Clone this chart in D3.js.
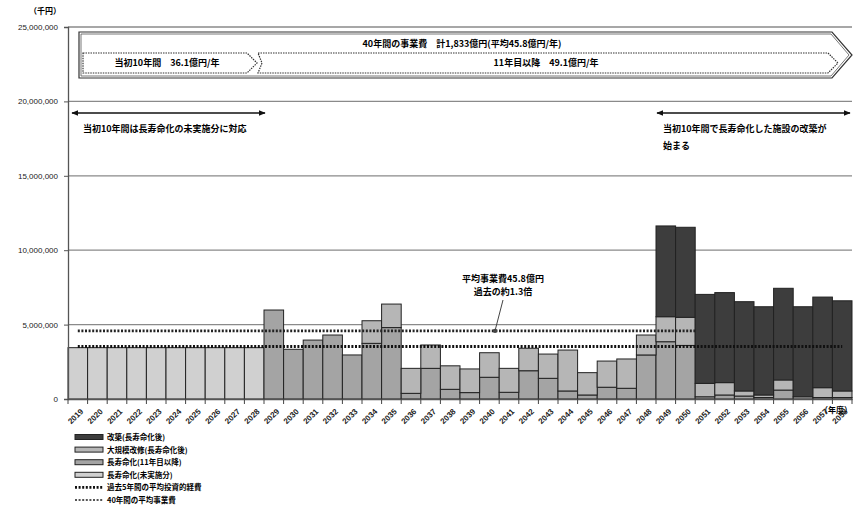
<!DOCTYPE html>
<html>
<head>
<meta charset="utf-8">
<script src="https://cdn.jsdelivr.net/npm/d3@7"></script>
<style>
  body { margin: 0; background: #fff; }
  text { font-family: "Noto Sans CJK JP", "Noto Sans", sans-serif; }
</style>
</head>
<body>
<svg id="chart" width="854" height="515"></svg>
<script>
// values in 千円
const years = d3.range(2019, 2059).map(String);

const mishi = [3450000, 3450000, 3450000, 3450000, 3450000, 3450000, 3450000, 3450000, 3450000, 3450000,
  0, 0, 0, 0, 0, 0, 0, 0, 0, 0, 0, 0, 0, 0, 0, 0, 0, 0, 0, 0, 0, 0, 0, 0, 0, 0, 0, 0, 0, 0];

const choju11 = [0, 0, 0, 0, 0, 0, 0, 0, 0, 0,
  5980000, 3340000, 3960000, 4300000, 2960000, 3740000, 4800000, 380000, 2060000, 650000,
  430000, 1460000, 450000, 1900000, 1390000, 540000, 270000, 790000, 720000, 2960000,
  3850000, 3600000, 150000, 270000, 200000, 100000, 600000, 0, 100000, 100000];

const daikibo = [0, 0, 0, 0, 0, 0, 0, 0, 0, 0,
  0, 0, 0, 0, 0, 1520000, 1580000, 1680000, 1570000, 1580000,
  1590000, 1650000, 1610000, 1510000, 1630000, 2750000, 1500000, 1760000, 1970000, 1340000,
  1680000, 1890000, 900000, 830000, 340000, 170000, 680000, 150000, 660000, 440000];

const kaichiku = [0, 0, 0, 0, 0, 0, 0, 0, 0, 0,
  0, 0, 0, 0, 0, 0, 0, 0, 0, 0,
  0, 0, 0, 0, 0, 0, 0, 0, 0, 0,
  6100000, 6050000, 5980000, 6050000, 6000000, 5930000, 6160000, 6050000, 6090000, 6060000];

const avg40 = 4580000;   // 40年間の平均事業費
const past5 = 3520000;   // 過去5年間の平均投資的経費

const yTicks = [0, 5000000, 10000000, 15000000, 20000000, 25000000];

const keys = ['mishi', 'choju11', 'daikibo', 'kaichiku'];
const colors = { mishi: '#d0d0d0', choju11: '#a4a4a4', daikibo: '#b6b6b6', kaichiku: '#3d3d3d' };
const legendItems = [
  { key: 'kaichiku', label: '改築(長寿命化後)' },
  { key: 'daikibo', label: '大規模改修(長寿命化後)' },
  { key: 'choju11', label: '長寿命化(11年目以降)' },
  { key: 'mishi', label: '長寿命化(未実施分)' },
];

const rows = years.map((y, i) => ({
  year: y, mishi: mishi[i], choju11: choju11[i], daikibo: daikibo[i], kaichiku: kaichiku[i]
}));

const plotL = 68, plotR = 852, plotT = 27, plotB = 399;
const svg = d3.select('#chart');

const x = d3.scaleBand().domain(years).range([plotL, plotR]).padding(0);
const y = d3.scaleLinear().domain([0, 25000000]).range([plotB, plotT]);
const bw = x.bandwidth();

// grid
svg.append('g')
  .selectAll('line')
  .data(yTicks.slice(1))
  .enter()
  .append('line')
  .attr('x1', plotL).attr('x2', plotR)
  .attr('y1', (d) => y(d)).attr('y2', (d) => y(d))
  .attr('stroke', '#8a8a8a')
  .attr('stroke-width', 1.3);

// bars
const stacked = d3.stack().keys(keys)(rows);
svg.append('g')
  .selectAll('g')
  .data(stacked)
  .enter()
  .append('g')
  .attr('fill', (d) => colors[d.key])
  .selectAll('rect')
  .data((d) => d.filter((p) => p[1] - p[0] > 0))
  .enter()
  .append('rect')
  .attr('x', (d) => x(d.data.year))
  .attr('width', bw)
  .attr('y', (d) => y(d[1]))
  .attr('height', (d) => y(d[0]) - y(d[1]))
  .attr('stroke', '#222')
  .attr('stroke-width', 1);

// average lines
svg.append('line')
  .attr('x1', x('2019') + bw / 2).attr('x2', x('2050') + bw)
  .attr('y1', y(avg40)).attr('y2', y(avg40))
  .attr('stroke', '#222').attr('stroke-width', 2.6)
  .attr('stroke-dasharray', '2,1.6');

svg.append('line')
  .attr('x1', x('2019') + bw / 2).attr('x2', x('2058') + bw / 2)
  .attr('y1', y(past5)).attr('y2', y(past5))
  .attr('stroke', '#111').attr('stroke-width', 3)
  .attr('stroke-dasharray', '2,1.6');

// y axis
const yAxis = d3.axisLeft(y).tickValues(yTicks).tickFormat(d3.format(',')).tickSize(4).tickPadding(6);
const gy = svg.append('g').attr('transform', 'translate(' + plotL + ',0)').call(yAxis);
gy.select('.domain').attr('stroke', '#555').attr('stroke-width', 1.3);
gy.selectAll('.tick line').attr('stroke', '#555');
gy.selectAll('text').attr('font-size', 8).attr('fill', '#222').style('font-family', '"Liberation Sans Narrow", "Liberation Sans", sans-serif');

// x axis
const xAxis = d3.axisBottom(x).tickSize(0).tickPadding(0);
const gx = svg.append('g').attr('transform', 'translate(0,' + plotB + ')').call(xAxis);
gx.select('.domain').attr('stroke', '#555').attr('stroke-width', 1.3);
gx.selectAll('text')
  .attr('font-size', 8)
  .attr('font-weight', 'bold')
  .attr('fill', '#222')
  .attr('text-anchor', 'end')
  .attr('dy', 0)
  .attr('y', 0)
  .attr('transform', 'translate(6,13) rotate(-45)')
  .style('font-family', '"Liberation Sans", sans-serif');

svg.append('g')
  .selectAll('line')
  .data(years.concat(['end']))
  .enter()
  .append('line')
  .attr('x1', (d) => (d === 'end' ? plotR : x(d)))
  .attr('x2', (d) => (d === 'end' ? plotR : x(d)))
  .attr('y1', plotB).attr('y2', plotB + 5)
  .attr('stroke', '#444');

svg.append('text').attr('x', 45).attr('y', 14).attr('font-size', 8).attr('font-weight', 'bold')
  .attr('text-anchor', 'middle').text('（千円）');
svg.append('text').attr('x', 836).attr('y', 413).attr('font-size', 8).attr('font-weight', 'bold')
  .attr('text-anchor', 'middle').text('（年度）');

// header arrows
svg.append('path')
  .attr('d', 'M79,32 L832,32 L852,55 L832,78 L79,78 Z')
  .attr('fill', 'none').attr('stroke', '#333').attr('stroke-width', 1.2);
svg.append('path')
  .attr('d', 'M81,34 L831,34 L849,55 L831,76 L81,76 Z')
  .attr('fill', 'none').attr('stroke', '#555').attr('stroke-width', 0.8);
svg.append('path')
  .attr('d', 'M83,53 L247,53 L257,63 L247,73 L83,73 Z')
  .attr('fill', 'none').attr('stroke', '#333').attr('stroke-width', 1.2).attr('stroke-dasharray', '1.5,1');
svg.append('path')
  .attr('d', 'M258,53 L828,53 L838,63 L828,73 L258,73 L262,63 Z')
  .attr('fill', 'none').attr('stroke', '#333').attr('stroke-width', 1.2).attr('stroke-dasharray', '1.5,1');

svg.append('text').attr('x', 462).attr('y', 47).attr('font-size', 9).attr('font-weight', 'bold')
  .attr('text-anchor', 'middle').text('40年間の事業費　計1,833億円(平均45.8億円/年)');
svg.append('text').attr('x', 167).attr('y', 66).attr('font-size', 9).attr('font-weight', 'bold')
  .attr('text-anchor', 'middle').text('当初10年間　36.1億円/年');
svg.append('text').attr('x', 546).attr('y', 66).attr('font-size', 9).attr('font-weight', 'bold')
  .attr('text-anchor', 'middle').text('11年目以降　49.1億円/年');

// double arrows
const defs = svg.append('defs');
defs.append('marker').attr('id', 'ah').attr('viewBox', '0 0 10 10').attr('refX', 9).attr('refY', 5)
  .attr('markerWidth', 5).attr('markerHeight', 5).attr('orient', 'auto-start-reverse')
  .append('path').attr('d', 'M0,1 L10,5 L0,9 Z').attr('fill', '#111');

[[72, 265], [657, 850]].forEach((a) => {
  svg.append('line').attr('x1', a[0]).attr('x2', a[1]).attr('y1', 113).attr('y2', 113)
    .attr('stroke', '#111').attr('stroke-width', 1.4)
    .attr('marker-start', 'url(#ah)').attr('marker-end', 'url(#ah)');
});
svg.append('text').attr('x', 83).attr('y', 132).attr('font-size', 9).attr('font-weight', 'bold')
  .text('当初10年間は長寿命化の未実施分に対応');
svg.append('text').attr('x', 663).attr('y', 132).attr('font-size', 9).attr('font-weight', 'bold')
  .text('当初10年間で長寿命化した施設の改築が');
svg.append('text').attr('x', 663).attr('y', 149).attr('font-size', 9).attr('font-weight', 'bold')
  .text('始まる');

// callout
svg.append('text').attr('x', 503).attr('y', 282).attr('font-size', 9).attr('font-weight', 'bold')
  .attr('text-anchor', 'middle').text('平均事業費45.8億円');
svg.append('text').attr('x', 503).attr('y', 295).attr('font-size', 9).attr('font-weight', 'bold')
  .attr('text-anchor', 'middle').text('過去の約1.3倍');
svg.append('line').attr('x1', 503).attr('y1', 300).attr('x2', 495).attr('y2', y(avg40))
  .attr('stroke', '#444').attr('stroke-width', 1);
svg.append('circle').attr('cx', 495).attr('cy', y(avg40)).attr('r', 2.2).attr('fill', '#444');

// legend
const lg = svg.append('g').attr('transform', 'translate(75,437)');
legendItems.forEach((d, i) => {
  lg.append('rect').attr('x', 0).attr('y', i * 12.6 - 2.5).attr('width', 28).attr('height', 5)
    .attr('fill', colors[d.key]).attr('stroke', '#222').attr('stroke-width', 1);
  lg.append('text').attr('x', 32).attr('y', i * 12.6 + 3).attr('font-size', 7.5).attr('font-weight', 'bold')
    .text(d.label);
});
lg.append('line').attr('x1', 0).attr('x2', 28).attr('y1', 4 * 12.6).attr('y2', 4 * 12.6)
  .attr('stroke', '#111').attr('stroke-width', 2.6).attr('stroke-dasharray', '2,1.6');
lg.append('text').attr('x', 32).attr('y', 4 * 12.6 + 3).attr('font-size', 7.5).attr('font-weight', 'bold')
  .text('過去5年間の平均投資的経費');
lg.append('line').attr('x1', 0).attr('x2', 28).attr('y1', 5 * 12.6).attr('y2', 5 * 12.6)
  .attr('stroke', '#555').attr('stroke-width', 1.8).attr('stroke-dasharray', '2,1.6');
lg.append('text').attr('x', 32).attr('y', 5 * 12.6 + 3).attr('font-size', 7.5).attr('font-weight', 'bold')
  .text('40年間の平均事業費');
</script>
</body>
</html>
